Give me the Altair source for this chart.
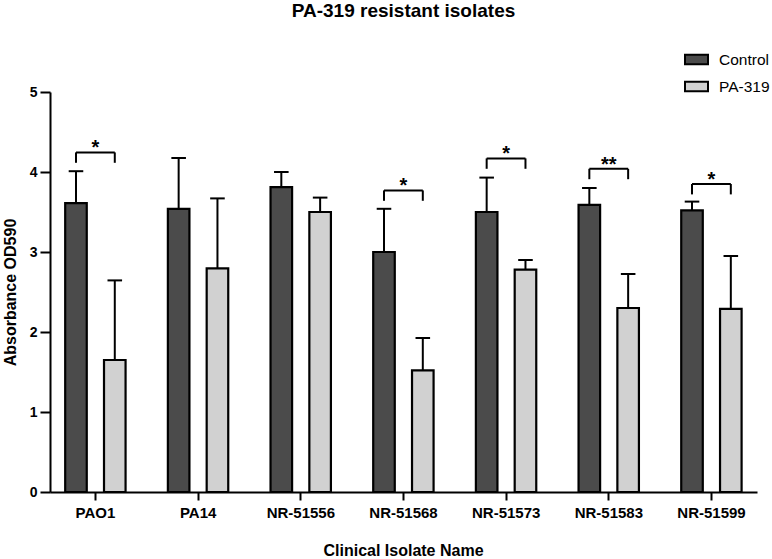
import json

import altair as alt
import pandas as pd

# Biofilm absorbance (OD590) per clinical isolate, mean and error for each treatment
isolates = ["PAO1", "PA14", "NR-51556", "NR-51568", "NR-51573", "NR-51583", "NR-51599"]
groups = ["Control", "PA-319"]
control_mean = [3.61, 3.54, 3.81, 3.00, 3.50, 3.59, 3.52]
control_err = [0.40, 0.635, 0.19, 0.54, 0.43, 0.21, 0.11]
pa319_mean = [1.65, 2.795, 3.50, 1.52, 2.78, 2.30, 2.29]
pa319_err = [0.995, 0.875, 0.18, 0.405, 0.12, 0.425, 0.66]

# Significance brackets: isolate, bracket height (OD590), marker
sig_isolates = ["PAO1", "NR-51568", "NR-51573", "NR-51583", "NR-51599"]
sig_levels = [4.245, 3.77, 4.17, 4.04, 3.85]
sig_labels = ["*", "*", "*", "**", "*"]

FONT = "Liberation Sans"
colors = ["#4b4b4b", "#d1d1d1"]

rows = []
for i, name in enumerate(isolates):
    rows.append({"isolate": name, "idx": i, "group": groups[0],
                 "mean": control_mean[i], "err": control_err[i]})
    rows.append({"isolate": name, "idx": i, "group": groups[1],
                 "mean": pa319_mean[i], "err": pa319_err[i]})
bars_df = pd.DataFrame(rows)

sig_df = pd.DataFrame({
    "isolate": sig_isolates,
    "idx": [isolates.index(n) for n in sig_isolates],
    "level": sig_levels,
    "label": sig_labels,
})

# bar placement inside each category (in category units)
CTRL_OFF, TRT_OFF, HALF_W, CAP_HALF = -0.185, 0.193, 0.105, 0.071

x_scale = alt.Scale(domain=[-0.438, 6.448], nice=False, zero=False)
y_scale = alt.Scale(domain=[0, 5], nice=False)

x_axis = alt.Axis(
    values=list(range(len(isolates))),
    labelExpr=f"{json.dumps(isolates)}[datum.value]",
    grid=False,
    title="Clinical Isolate Name",
    titleX=353, titleY=63, titleBaseline="alphabetic", titleAlign="center",
    titleFontSize=16, titleFontWeight="bold",
    labelFontSize=15, labelFontWeight="bold", labelPadding=5.5, tickSize=8,
)
y_axis = alt.Axis(
    values=[0, 1, 2, 3, 4, 5],
    grid=False,
    title="Absorbance OD590",
    titleX=-35, titleY=200, titleAngle=-90, titleBaseline="alphabetic",
    titleAlign="center", titleFontSize=16, titleFontWeight="bold",
    labelFontSize=14, labelFontWeight="bold", labelPadding=3, tickSize=10,
)

base = alt.Chart(bars_df).transform_calculate(
    center=f"datum.idx + (datum.group == '{groups[0]}' ? {CTRL_OFF} : {TRT_OFF})"
).transform_calculate(
    left=f"datum.center - {HALF_W}",
    right=f"datum.center + {HALF_W}",
    capl=f"datum.center - {CAP_HALF}",
    capr=f"datum.center + {CAP_HALF}",
    top="datum.mean + datum.err",
)

stems = base.mark_rule(color="black", strokeWidth=2).encode(
    x=alt.X("center:Q", scale=x_scale, axis=x_axis),
    y=alt.Y("mean:Q", scale=y_scale, axis=y_axis),
    y2="top:Q",
)
caps = base.mark_rule(color="black", strokeWidth=2).encode(
    x=alt.X("capl:Q", scale=x_scale, axis=x_axis),
    x2="capr:Q",
    y=alt.Y("top:Q", scale=y_scale, axis=y_axis),
)

symbol_path = "M-1,-0.42H1V0.42H-1Z"
bars = base.mark_rect(stroke="black", strokeWidth=2.2).encode(
    x=alt.X("left:Q", scale=x_scale, axis=x_axis),
    x2="right:Q",
    y=alt.Y("mean:Q", scale=y_scale, axis=y_axis),
    y2=alt.datum(0),
    fill=alt.Fill(
        "group:N",
        scale=alt.Scale(domain=groups, range=colors),
        legend=alt.Legend(
            title=None, orient="none", legendX=634, legendY=-45,
            symbolType=symbol_path, symbolSize=529,
            symbolStrokeColor="black", symbolStrokeWidth=2,
            labelFont=FONT, labelFontSize=15.5, labelColor="black",
            labelOffset=10, rowPadding=5, padding=0,
        ),
    ),
)

sig_base = alt.Chart(sig_df).transform_calculate(
    xl=f"datum.idx + {CTRL_OFF}",
    xr=f"datum.idx + {TRT_OFF}",
    xm=f"datum.idx + ({CTRL_OFF} + {TRT_OFF}) / 2",
    foot="datum.level - 0.13",
)
bracket_top = sig_base.mark_rule(color="black", strokeWidth=2).encode(
    x=alt.X("xl:Q", scale=x_scale, axis=x_axis),
    x2="xr:Q",
    y=alt.Y("level:Q", scale=y_scale, axis=y_axis),
)
leg_left = sig_base.mark_rule(color="black", strokeWidth=2).encode(
    x=alt.X("xl:Q", scale=x_scale, axis=x_axis),
    y=alt.Y("level:Q", scale=y_scale, axis=y_axis),
    y2="foot:Q",
)
leg_right = sig_base.mark_rule(color="black", strokeWidth=2).encode(
    x=alt.X("xr:Q", scale=x_scale, axis=x_axis),
    y=alt.Y("level:Q", scale=y_scale, axis=y_axis),
    y2="foot:Q",
)
stars = sig_base.mark_text(
    font=FONT, fontSize=20, fontWeight="bold", color="black",
    align="center", baseline="alphabetic", dy=2,
).encode(
    x=alt.X("xm:Q", scale=x_scale, axis=x_axis),
    y=alt.Y("level:Q", scale=y_scale, axis=y_axis),
    text="label:N",
)

chart = alt.layer(
    stems, caps, bars, bracket_top, leg_left, leg_right, stars
).properties(
    width=707,
    height=400,
    autosize=alt.AutoSizeParams(type="none"),
    padding={"left": 50, "top": 92, "right": 15, "bottom": 67},
    title=alt.TitleParams(
        "PA-319 resistant isolates", font=FONT, fontSize=19,
        fontWeight="bold", color="black", anchor="middle", offset=26,
    ),
).configure(
    background="white"
).configure_view(
    stroke=None
).configure_axis(
    grid=False,
    domainColor="black", domainWidth=2,
    tickColor="black", tickWidth=2,
    labelColor="black", labelFont=FONT, labelFontWeight="bold",
    titleColor="black", titleFont=FONT,
)

chart.save("out.html", embed_options={"renderer": "svg", "actions": False})
